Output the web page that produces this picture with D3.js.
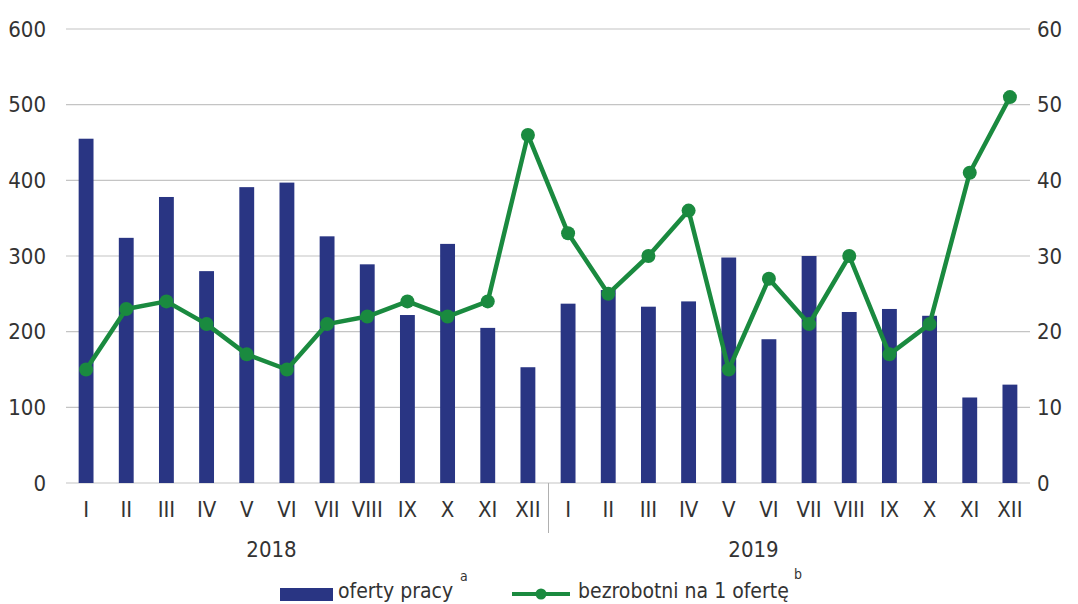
<!DOCTYPE html>
<html>
<head>
<meta charset="utf-8">
<script src="https://cdn.jsdelivr.net/npm/d3@7"></script>
<style>
  body { margin: 0; background: #fff; }
  svg text { font-family: "DejaVu Sans Condensed", "Liberation Sans Narrow", sans-serif; fill: #333; }
</style>
</head>
<body>
<svg id="chart"></svg>
<script>
var width = 1078, height = 604;

// data
var months = ['I','II','III','IV','V','VI','VII','VIII','IX','X','XI','XII'];
var years = ['2018', '2019'];
var oferty = [455, 324, 378, 280, 391, 397, 326, 289, 222, 316, 205, 153,
              237, 255, 233, 240, 298, 190, 300, 226, 230, 221, 113, 130];
var bezrobotni = [15, 23, 24, 21, 17, 15, 21, 22, 24, 22, 24, 46,
                  33, 25, 30, 36, 15, 27, 21, 30, 17, 21, 41, 51];
var leftTicks = [0, 100, 200, 300, 400, 500, 600];
var rightTicks = [0, 10, 20, 30, 40, 50, 60];

var navy = '#293583', green = '#1a8a3f';

var svg = d3.select('#chart')
    .attr('width', width)
    .attr('height', height);

var x = d3.scaleBand()
    .domain(d3.range(oferty.length))
    .range([66, 1030])
    .paddingInner(0.63)
    .paddingOuter(0.315);

var yLeft = d3.scaleLinear().domain([0, 600]).range([483, 29]);
var yRight = d3.scaleLinear().domain([0, 60]).range([483, 29]);

var cx = i => x(i) + x.bandwidth() / 2;

// grid
svg.append('g')
    .selectAll('line')
    .data(leftTicks)
    .join('line')
    .attr('x1', 66)
    .attr('x2', 1030)
    .attr('y1', d => yLeft(d))
    .attr('y2', d => yLeft(d))
    .attr('stroke', '#c4c4c4')
    .attr('stroke-width', 1.2);

// left axis
var leftAxis = svg.append('g')
    .attr('transform', 'translate(46,0)')
    .call(d3.axisLeft(yLeft).tickValues(leftTicks).tickSize(0).tickPadding(0));
leftAxis.select('.domain').remove();
leftAxis.selectAll('text').attr('font-size', 22).attr('fill', '#333');

// right axis
var rightAxis = svg.append('g')
    .attr('transform', 'translate(1037,0)')
    .call(d3.axisRight(yRight).tickValues(rightTicks).tickSize(0).tickPadding(0));
rightAxis.select('.domain').remove();
rightAxis.selectAll('text').attr('font-size', 22).attr('fill', '#333');

// bars
svg.append('g')
    .selectAll('rect')
    .data(oferty)
    .join('rect')
    .attr('x', (d, i) => x(i))
    .attr('y', d => yLeft(d))
    .attr('width', x.bandwidth())
    .attr('height', d => yLeft(0) - yLeft(d))
    .attr('fill', navy);

// line
var line = d3.line()
    .x((d, i) => cx(i))
    .y(d => yRight(d));

svg.append('path')
    .datum(bezrobotni)
    .attr('d', line)
    .attr('fill', 'none')
    .attr('stroke', green)
    .attr('stroke-width', 4.5)
    .attr('stroke-linejoin', 'round');

svg.append('g')
    .selectAll('circle')
    .data(bezrobotni)
    .join('circle')
    .attr('cx', (d, i) => cx(i))
    .attr('cy', d => yRight(d))
    .attr('r', 7)
    .attr('fill', green);

// month labels
svg.append('g')
    .selectAll('text')
    .data(oferty)
    .join('text')
    .attr('x', (d, i) => cx(i))
    .attr('y', 517)
    .attr('text-anchor', 'middle')
    .attr('font-size', 22)
    .text((d, i) => months[i % 12]);

// year divider
svg.append('line')
    .attr('x1', x(12) - x.step() * x.paddingInner() / 2 + 0.5)
    .attr('x2', x(12) - x.step() * x.paddingInner() / 2 + 0.5)
    .attr('y1', 483)
    .attr('y2', 533)
    .attr('stroke', '#b0b0b0')
    .attr('stroke-width', 1);

// year labels
svg.append('g')
    .selectAll('text')
    .data(years)
    .join('text')
    .attr('x', (d, i) => x(5 + i * 12) - 8)
    .attr('y', 557)
    .attr('text-anchor', 'middle')
    .attr('font-size', 22)
    .text(d => d);

// legend
var legend = svg.append('g');
legend.append('rect')
    .attr('x', 280).attr('y', 588)
    .attr('width', 53).attr('height', 13)
    .attr('fill', navy);
legend.append('text')
    .attr('x', 338).attr('y', 598)
    .attr('font-size', 21)
    .text('oferty pracy');
legend.append('text')
    .attr('x', 460).attr('y', 581)
    .attr('font-size', 14)
    .text('a');

legend.append('line')
    .attr('x1', 512).attr('x2', 570)
    .attr('y1', 594).attr('y2', 594)
    .attr('stroke', green)
    .attr('stroke-width', 4);
legend.append('circle')
    .attr('cx', 541).attr('cy', 594)
    .attr('r', 5.5)
    .attr('fill', green);
legend.append('text')
    .attr('x', 578).attr('y', 598)
    .attr('font-size', 21)
    .text('bezrobotni na 1 ofertę');
legend.append('text')
    .attr('x', 794).attr('y', 579)
    .attr('font-size', 14)
    .text('b');
</script>
</body>
</html>
